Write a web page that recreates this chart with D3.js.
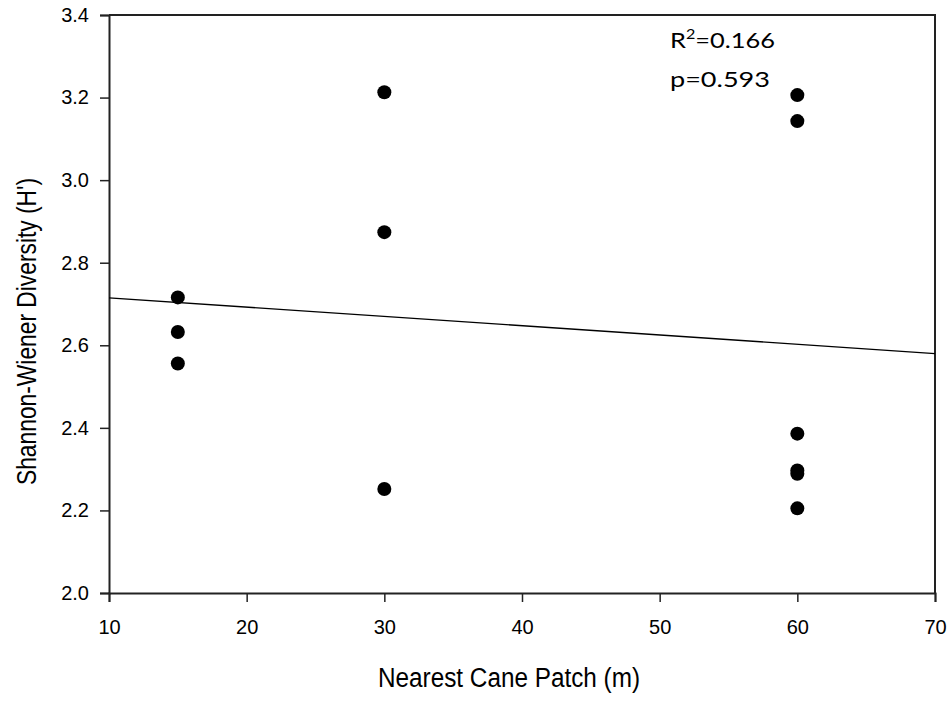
<!DOCTYPE html>
<html>
<head>
<meta charset="utf-8">
<script src="https://cdn.jsdelivr.net/npm/d3@7"></script>
<style>
  body { margin: 0; background: #fff; }
  svg text { font-family: "Liberation Sans", Arial, sans-serif; fill: #000; }
</style>
</head>
<body>
<svg id="chart"></svg>
<script>
const width = 952;
const height = 702;

// data
const distance  = [15, 15, 15, 30, 30, 30, 60, 60, 60, 60, 60, 60];
const diversity = [2.716, 2.632, 2.556, 3.213, 2.874, 2.252, 3.206, 3.143, 2.386, 2.297, 2.289, 2.205];
const fitLine   = [[10, 2.715], [70, 2.580]];
const xTicks    = [10, 20, 30, 40, 50, 60, 70];
const yTicks    = [2.0, 2.2, 2.4, 2.6, 2.8, 3.0, 3.2, 3.4];
const statsText = ["R²=0.166", "p=0.593"];

const margin = { top: 15, right: 17, bottom: 109, left: 109 };

const svg = d3.select('#chart')
  .attr('width', width)
  .attr('height', height);

const x = d3.scaleLinear().domain([10, 70]).range([margin.left, width - margin.right]);
const y = d3.scaleLinear().domain([2.0, 3.4]).range([height - margin.bottom, margin.top]);

// axes
const xAxis = svg.append('g')
  .attr('transform', `translate(0,${height - margin.bottom})`)
  .call(d3.axisBottom(x).tickValues(xTicks).tickSize(9).tickPadding(18).tickFormat(d3.format('d')));

const yAxis = svg.append('g')
  .attr('transform', `translate(${margin.left},0)`)
  .call(d3.axisLeft(y).tickValues(yTicks).tickSize(9).tickPadding(11).tickFormat(d3.format('.1f')));

[xAxis, yAxis].forEach(g => {
  g.select('.domain').attr('stroke', '#222').attr('stroke-width', 2);
  g.selectAll('.tick line').attr('stroke', '#222').attr('stroke-width', 1.5);
  g.selectAll('.tick text').attr('font-size', 20).attr('font-family', '"Liberation Sans", Arial, sans-serif');
});

// top and right frame
svg.append('path')
  .attr('d', `M${x(10)},${y(3.4)}H${x(70)}V${y(2.0)}`)
  .attr('fill', 'none')
  .attr('stroke', '#222')
  .attr('stroke-width', 2);

// regression line
svg.append('line')
  .attr('x1', x(fitLine[0][0])).attr('y1', y(fitLine[0][1]))
  .attr('x2', x(fitLine[1][0])).attr('y2', y(fitLine[1][1]))
  .attr('stroke', '#000')
  .attr('stroke-width', 1.3);

// points
svg.selectAll('circle.pt').data(distance)
  .enter().append('circle')
    .attr('class', 'pt')
    .attr('cx', d => x(d))
    .attr('cy', (d, i) => y(diversity[i]))
    .attr('r', 7)
    .attr('fill', '#000');

// stats annotation
const statFont = 'Lato, "Open Sans", sans-serif';
const r2 = svg.append('text')
  .attr('x', 670).attr('y', 48)
  .attr('font-size', 22)
  .attr('textLength', 105).attr('lengthAdjust', 'spacingAndGlyphs')
  .style('font-family', statFont);
r2.append('tspan').text(statsText[0].slice(0, 1));
r2.append('tspan').text('2').attr('font-size', 14).attr('dy', -9);
r2.append('tspan').text(statsText[0].slice(2)).attr('dy', 9);

svg.append('text')
  .attr('x', 670).attr('y', 87)
  .attr('font-size', 22)
  .attr('textLength', 100).attr('lengthAdjust', 'spacingAndGlyphs')
  .style('font-family', statFont)
  .text(statsText[1]);

// axis titles
svg.append('text')
  .attr('x', 378)
  .attr('y', 687)
  .attr('font-size', 27)
  .attr('textLength', 262).attr('lengthAdjust', 'spacingAndGlyphs')
  .text('Nearest Cane Patch (m)');

svg.append('text')
  .attr('transform', `translate(36,485) rotate(-90)`)
  .attr('font-size', 27)
  .attr('textLength', 307).attr('lengthAdjust', 'spacingAndGlyphs')
  .text("Shannon-Wiener Diversity (H')");
</script>
</body>
</html>
